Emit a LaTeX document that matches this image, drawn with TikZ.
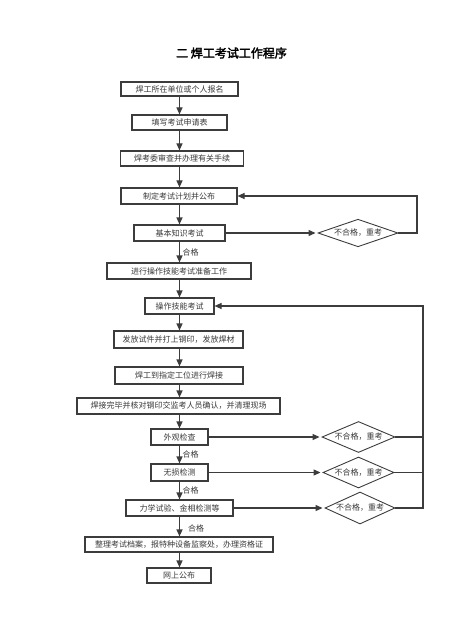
\documentclass[tikz,border=0pt]{standalone}
\usepackage{fontspec}
\newfontfamily\cjk{Noto Sans CJK SC}
\newfontfamily\cjkbold[FakeBold=2.5]{Noto Sans CJK SC}
\usetikzlibrary{shapes.geometric,arrows.meta}
\definecolor{ln}{HTML}{3C3C3C}
\definecolor{tx}{HTML}{3A3A3A}
\tikzset{
  box/.style={draw=ln, line width=1.1pt, fill=white, inner sep=0pt, font=\cjk\fontsize{8pt}{9pt}\selectfont, text=tx},
  dia/.style={draw=ln, line width=0.9pt, shape=diamond, aspect=2.4, inner sep=0pt, font=\cjk\fontsize{8pt}{9pt}\selectfont, text=tx},
  arr/.style={draw=ln, line width=1.1pt, -{Triangle[length=7pt,width=6pt]}},
  ln/.style={draw=ln, line width=1.1pt},
  lab/.style={anchor=west, inner sep=0pt, font=\cjk\fontsize{8pt}{9pt}\selectfont, text=tx}
}
\begin{document}
\begin{tikzpicture}[x=1pt,y=-1pt]
\useasboundingbox (0,0) rectangle (469,628);
\node[font=\cjkbold\fontsize{12pt}{14pt}\selectfont, text=black] (title) at (231.5,53) {二\ 焊工考试工作程序};

\node[box, minimum width=117, minimum height=14] (b1) at (179.5,89) {焊工所在单位或个人报名};
\node[box, minimum width=95, minimum height=15] (b2) at (179.5,122.5) {填写考试申请表};
\node[box, minimum width=123, minimum height=15] (b3) at (182,158.5) {焊考委审查并办理有关手续};
\node[box, minimum width=116, minimum height=16] (b4) at (179,196) {制定考试计划并公布};
\node[box, minimum width=91, minimum height=16] (b5) at (179.5,233) {基本知识考试};
\node[box, minimum width=144, minimum height=16] (b6) at (179,271) {进行操作技能考试准备工作};
\node[box, minimum width=69, minimum height=16] (b7) at (179.5,306) {操作技能考试};
\node[box, minimum width=129, minimum height=17] (b8) at (178.5,339.5) {发放试件并打上钢印，发放焊材};
\node[box, minimum width=128, minimum height=17] (b9) at (179,375.5) {焊工到指定工位进行焊接};
\node[box, minimum width=203, minimum height=16] (b10) at (178.5,406) {焊接完毕并核对钢印交监考人员确认，并清理现场};
\node[box, minimum width=57, minimum height=16] (b11) at (179.5,437) {外观检查};
\node[box, minimum width=57, minimum height=17] (b12) at (179.5,472.5) {无损检测};
\node[box, minimum width=107, minimum height=16] (b13) at (179.5,508) {力学试验、金相检测等};
\node[box, minimum width=188, minimum height=15] (b14) at (179,544.5) {整理考试档案，报特种设备监察处，办理资格证};
\node[box, minimum width=64, minimum height=15] (b15) at (179,575.5) {网上公布};

\node[dia, minimum width=80, minimum height=26] (d1) at (358,233) {不合格，重考};
\node[dia, minimum width=73, minimum height=31] (d2) at (358.5,437) {不合格，重考};
\node[dia, minimum width=71, minimum height=31] (d3) at (358.5,472.5) {不合格，重考};
\node[dia, minimum width=70, minimum height=32] (d4) at (360,508) {不合格，重考};

\coordinate (r1) at (417,196);
\coordinate (r2) at (423,306);

\foreach \a/\b in {b1/b2,b2/b3,b3/b4,b4/b5,b5/b6,b6/b7,b7/b8,b8/b9,b9/b10,b10/b11,b11/b12,b12/b13,b13/b14,b14/b15}
  \draw[arr] (\a.south -| 179.5,0) -- (\b.north -| 179.5,0);

\draw[arr, shorten >=2pt] (b5.east) -- (d1.west);
\draw[arr, shorten >=2pt] (b11.east) -- (d2.west);
\draw[arr, shorten >=2pt] (b12.east) -- (d3.west);
\draw[arr, shorten >=2pt] (b13.east) -- (d4.west);

\draw[arr] (d1.east) -| (r1) -- (b4.east);
\draw[arr] (d4.east) -| (r2) -- (b7.east);
\draw[ln] (d2.east) -- (d2.east -| r2);
\draw[ln] (d3.east) -- (d3.east -| r2);

\node[lab] (h1) at (182.5,252) {合格};
\node[lab] (h2) at (182.5,454) {合格};
\node[lab] (h3) at (182.5,490) {合格};
\node[lab] (h4) at (188,528) {合格};
\end{tikzpicture}
\end{document}
